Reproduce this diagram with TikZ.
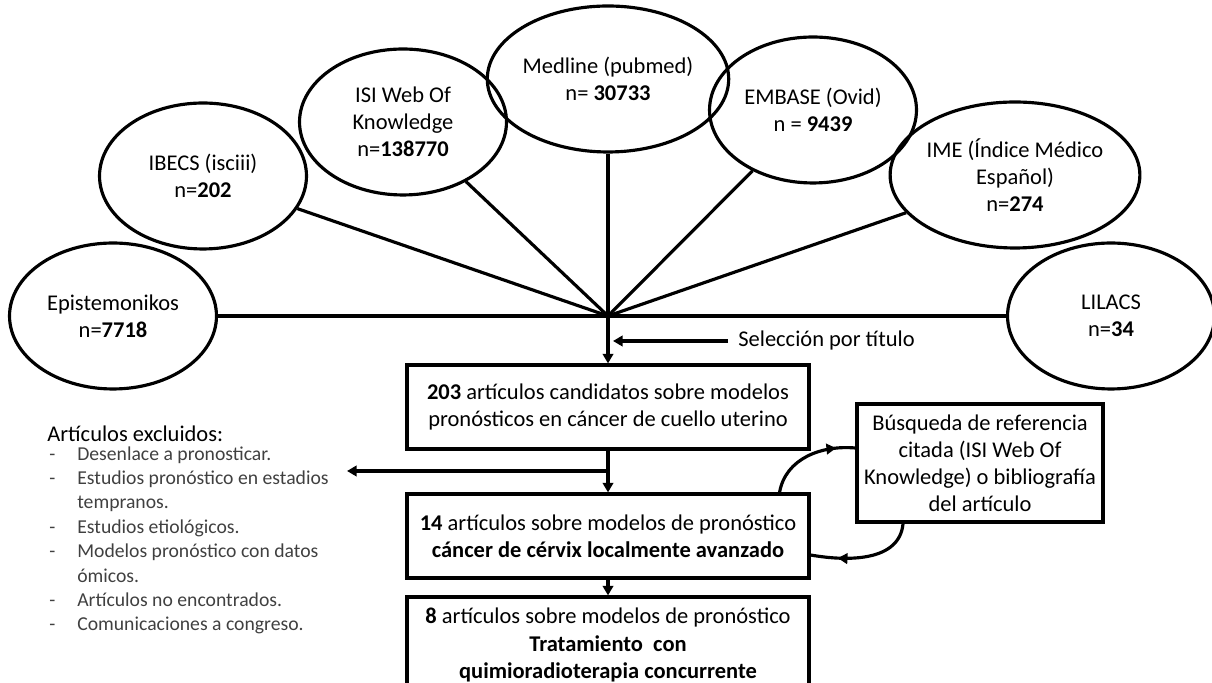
\documentclass[tikz,border=0pt]{standalone}
\usepackage{fontspec}
\setmainfont{Carlito}
\usetikzlibrary{shapes.geometric,arrows.meta,decorations.markings}
\newcommand{\exitem}{\makebox[0.56cm][l]{-}}
\newcommand{\exindent}{\hspace*{0.56cm}}

\begin{document}
\begin{tikzpicture}[x=0.02cm,y=0.02cm,
    font=\fontsize{12.8}{15.4}\selectfont,
    db/.style={ellipse,draw,line width=1.8pt,minimum width=4.14cm,minimum height=2.92cm,inner sep=0pt,align=center},
    stage/.style={rectangle,draw,line width=1.8pt,minimum width=8.04cm,minimum height=1.68cm,inner sep=0pt,align=center},
    arr/.style={line width=1.8pt,-{Triangle[length=5.5pt,width=6pt]}},
    midarr/.style={line width=1.8pt,postaction={decorate},
        decoration={markings,mark=at position #1 with {\arrow{Triangle[length=5.5pt,width=6pt]}}}}
  ]
    \useasboundingbox (0,0) rectangle (1212,682);
    \clip (0,0) rectangle (1212,682);

    % databases
    \node[db] (epi)     at (113,366)  {Epistemonikos\\n=\textbf{7718}};
    \node[db] (ibecs)   at (203,506)  {IBECS (isciii)\\n=\textbf{202}};
    \node[db] (isi)     at (403,560)  {ISI Web Of\\Knowledge\\n=\textbf{138770}};
    \node[db] (medline) at (608,603)  {Medline (pubmed)\\n= \textbf{30733}};
    \node[db] (embase)  at (813,572)  {EMBASE (Ovid)\\n = \textbf{9439}};
    \node[db] (ime)     at (1015,507) {IME (Índice Médico\\Español)\\n=\textbf{274}};
    \node[db] (lilacs)  at (1111,366) {LILACS\\n=\textbf{34}};

    \coordinate (J) at (608,366);
    \foreach \n in {epi,ibecs,isi,medline,embase,ime,lilacs} {
        \draw[line width=1.8pt] (J) -- (\n);
    }

    % selection steps
    \node[stage] (cand) at (608,275)
        {\textbf{203} artículos candidatos sobre modelos\\pronósticos en cáncer de cuello uterino};
    \node[stage] (loc) at (608,146)
        {\textbf{14} artículos sobre modelos de pronóstico\\\textbf{cáncer de cérvix localmente avanzado}};
    \node[stage,minimum height=1.92cm] (trat) at (608,37)
        {\textbf{8} artículos sobre modelos de pronóstico\\\textbf{Tratamiento \ con}\\\textbf{quimioradioterapia concurrente}};
    \node[stage,minimum width=4.92cm,minimum height=2.36cm] (busq) at (980,219)
        {Búsqueda de referencia\\citada (ISI Web Of\\Knowledge) o bibliografía\\del artículo};

    \draw[arr] (J) -- (cand.north);
    \node[anchor=west,inner xsep=0.2cm,inner ysep=0pt] (sel) at (728,341) {Selección por título};
    \coordinate (selend) at (613,341);
    \draw[arr] (sel.west) -- (selend);

    \draw[arr] (cand.south) -- (loc.north);
    \coordinate (brk) at (608,211);
    \coordinate (exclend) at (347,211);
    \draw[arr] (brk) -- (exclend);
    \draw[arr] (loc.south) -- (trat.north);

    % loop with the citation search
    \draw[midarr=0.8] ([xshift=-0.62cm]loc.north east) to[out=80,in=175] ([yshift=0.3cm]busq.west);
    \draw[midarr=0.75] ([xshift=-1.54cm]busq.south) to[out=265,in=-10] ([yshift=-0.38cm]loc.east);

    % excluded
    \node[anchor=west,inner sep=0pt] (exclhead) at (47,248) {Artículos excluidos:};
    \node[anchor=north west,inner sep=0pt,align=left,text=black!75,
          font=\fontsize{11.2}{13.9}\selectfont] (excllist) at (49,236)
        {\exitem Desenlace a pronosticar.\\
         \exitem Estudios pronóstico en estadios\\
         \exindent tempranos.\\
         \exitem Estudios etiológicos.\\
         \exitem Modelos pronóstico con datos\\
         \exindent ómicos.\\
         \exitem Artículos no encontrados.\\
         \exitem Comunicaciones a congreso.};
\end{tikzpicture}
\end{document}
